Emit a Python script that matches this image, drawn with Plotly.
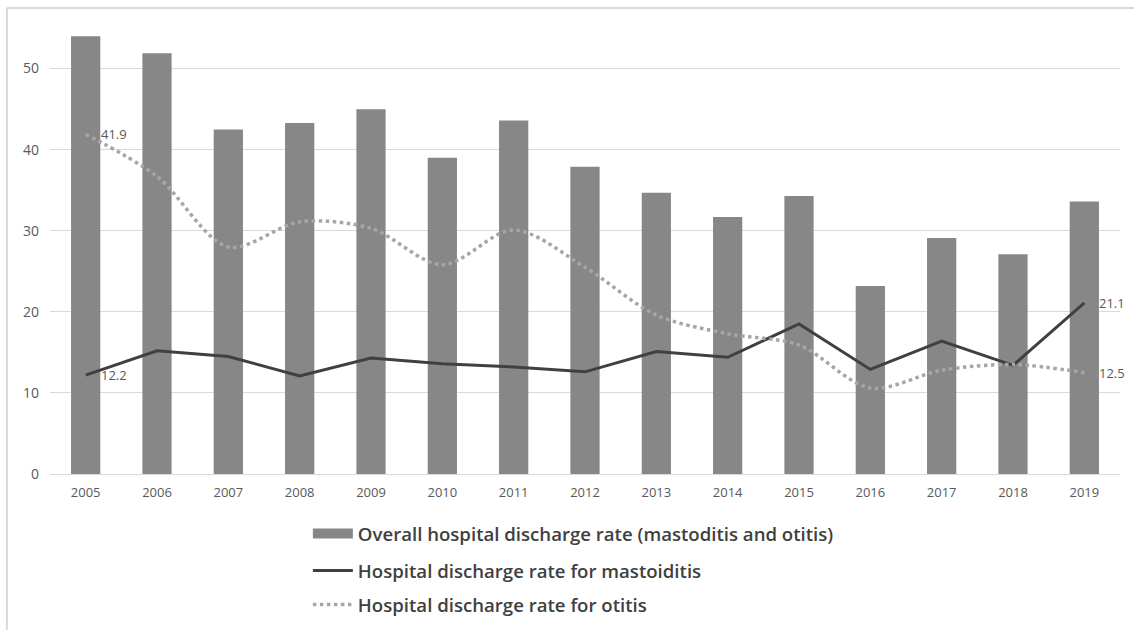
import plotly.graph_objects as go

years = ["2005", "2006", "2007", "2008", "2009", "2010", "2011", "2012",
         "2013", "2014", "2015", "2016", "2017", "2018", "2019"]
overall_rate = [54.0, 51.9, 42.5, 43.3, 45.0, 39.0, 43.6, 37.9,
                34.7, 31.7, 34.3, 23.2, 29.1, 27.1, 33.6]
mastoiditis_rate = [12.2, 15.2, 14.5, 12.1, 14.3, 13.6, 13.2, 12.6,
                    15.1, 14.4, 18.5, 12.9, 16.4, 13.4, 21.1]
otitis_rate = [41.9, 36.7, 28.0, 31.1, 30.3, 25.8, 30.1, 25.5,
               19.6, 17.3, 15.9, 10.6, 12.8, 13.5, 12.5]

names = ["Overall hospital discharge rate (mastoditis and otitis)",
         "Hospital discharge rate for mastoiditis",
         "Hospital discharge rate for otitis"]

BAR_GRAY = "#878787"
DARK = "#404040"
LIGHT = "#a6a6a6"
TEXT = "#595959"
GRID = "#d9d9d9"
FONT = "Open Sans"

fig = go.Figure()

fig.add_trace(go.Bar(
    x=years, y=overall_rate, name=names[0], marker_color=BAR_GRAY,
    marker_line_width=0, showlegend=False,
))
# wide swatch for the bar series legend entry
fig.add_trace(go.Scatter(
    x=[None], y=[None], mode="lines", name=names[0],
    line=dict(color=BAR_GRAY, width=12), legend="legend",
))
fig.add_trace(go.Scatter(
    x=years, y=mastoiditis_rate, mode="lines", name=names[1],
    line=dict(color=DARK, width=3), legend="legend2",
))
fig.add_trace(go.Scatter(
    x=years, y=otitis_rate, mode="lines", name=names[2],
    line=dict(color=LIGHT, width=3.5, dash="dot", shape="spline", smoothing=0.9),
    legend="legend3",
))

# end-point value labels (category index used for x position)
label_pts = [
    (0, otitis_rate[0]),
    (0, mastoiditis_rate[0]),
    (len(years) - 1, mastoiditis_rate[-1]),
    (len(years) - 1, otitis_rate[-1]),
]
for xi, y in label_pts:
    fig.add_annotation(
        x=xi, y=y, text=f"{y:.1f}", showarrow=False, xanchor="left",
        yanchor="middle", xshift=13, font=dict(family=FONT, size=13, color=TEXT),
    )

legend_font = dict(family=FONT, size=18.6, color=DARK, weight=600)
common_legend = dict(font=legend_font, bgcolor="rgba(0,0,0,0)", xanchor="left",
                     yanchor="middle", itemwidth=40)

fig.update_layout(
    width=1134, height=630,
    margin=dict(l=50, r=14, t=24, b=156, autoexpand=False),
    plot_bgcolor="white", paper_bgcolor="white",
    bargap=0.59,
    font=dict(family=FONT, color=TEXT),
    legend=dict(x=0.241, y=-0.133, **common_legend),
    legend2=dict(x=0.241, y=-0.2156, **common_legend),
    legend3=dict(x=0.241, y=-0.291, **common_legend),
    xaxis=dict(
        type="category", range=[-0.5, len(years) - 0.5], showgrid=False,
        showline=True, linecolor=GRID, linewidth=1, ticks="",
        tickfont=dict(family=FONT, size=13, color=TEXT), ticklabelstandoff=6,
    ),
    yaxis=dict(
        range=[0, 55.5], dtick=10, showgrid=True, gridcolor=GRID, gridwidth=1,
        zeroline=False, showline=False, ticks="",
        tickfont=dict(family=FONT, size=14, color=TEXT), ticklabelstandoff=10,
    ),
    shapes=[
        dict(type="line", xref="paper", yref="paper", x0=-0.0403, x1=1.02,
             y0=1.0356, y1=1.0356, line=dict(color=GRID, width=2)),
        dict(type="line", xref="paper", yref="paper", x0=-0.0403, x1=-0.0403,
             y0=1.0356, y1=-0.36, line=dict(color=GRID, width=2)),
    ],
)

fig.write_html("out.html")
